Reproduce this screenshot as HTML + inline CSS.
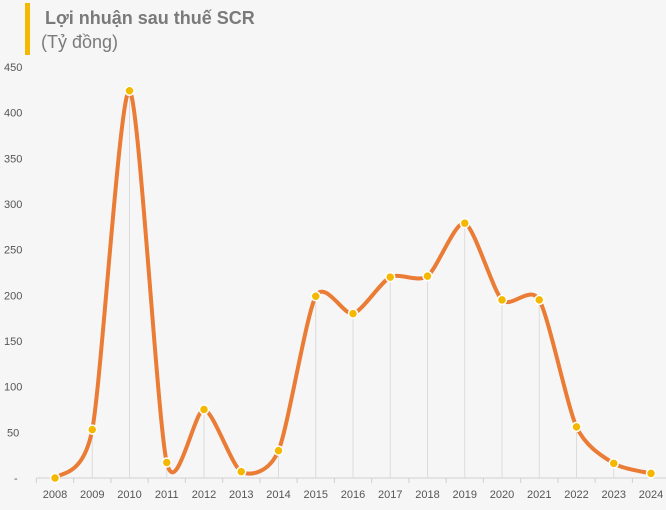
<!DOCTYPE html>
<html><head><meta charset="utf-8"><style>
body{margin:0;background:#f6f6f6;}
svg{display:block;font-family:"Liberation Sans","DejaVu Sans",sans-serif;}
</style></head><body>
<svg id="c" width="666" height="510">
<rect width="666" height="510" fill="#f6f6f6"/>
<rect x="25" y="3" width="5" height="52" fill="#f5b800"/>
<text x="45" y="24" font-size="18" font-weight="bold" fill="#7a7a7a">Lợi nhuận sau thuế SCR</text>
<text x="41" y="48" font-size="18" fill="#7a7a7a">(Tỷ đồng)</text>
<g id="ax"></g><g id="drops"></g><path id="line" fill="none" stroke="#ea7c35" stroke-width="4" stroke-linecap="round"/><g id="pts"></g>
</svg>
<script>
const years=["2008","2009","2010","2011","2012","2013","2014","2015","2016","2017","2018","2019","2020","2021","2022","2023","2024"];
const profit=[0,53,424,17,75,7,30,199,180,220,221,279,195,195,56,16,5];
const yTicks=[0,50,100,150,200,250,300,350,400,450];
const yTickLabels=["-","50","100","150","200","250","300","350","400","450"];
const NS="http://www.w3.org/2000/svg";
const x=i=>55+i*37.25, y=v=>478-v*411/450;
function mk(t,a,p){const e=document.createElementNS(NS,t);for(const k in a)e.setAttribute(k,a[k]);p.appendChild(e);return e;}
const ax=document.getElementById('ax');
yTicks.forEach((v,i)=>{const t=mk('text',{x:i==0?14:(v<100?7:4),y:y(v)+4,'font-size':11,fill:'#555'},ax);t.textContent=yTickLabels[i];

});
const base=mk('line',{x1:37,x2:666,y1:478,y2:478,stroke:'#d0d0d0'},ax);


years.forEach((yr,i)=>{mk('line',{x1:x(i)-18.6,x2:x(i)-18.6,y1:478,y2:483,stroke:'#d0d0d0'},ax);
const t=mk('text',{x:x(i),y:498,'font-size':11,fill:'#555','text-anchor':'middle'},ax);t.textContent=yr;


const d=mk('line',{x1:x(i),x2:x(i),y1:y(profit[i]),y2:478,stroke:'#dcdcdc'},document.getElementById('drops'));

});
const P=profit.map((v,i)=>[x(i),y(v)]);
const k=8;
let d='M'+P[0];
for(let i=0;i<P.length-1;i++){const p0=P[i-1]||P[i],p1=P[i],p2=P[i+1],p3=P[i+2]||P[i+1];
d+=` C${p1[0]+(p2[0]-p0[0])/k},${p1[1]+(p2[1]-p0[1])/k} ${p2[0]-(p3[0]-p1[0])/k},${p2[1]-(p3[1]-p1[1])/k} ${p2[0]},${p2[1]}`;}
document.getElementById('line').setAttribute('d',d);
P.forEach(p=>{const c=mk('circle',{cx:p[0],cy:p[1],r:4.5,fill:'#f5b800',stroke:'#fff','stroke-width':1.5},document.getElementById('pts'));

});
</script>
</body></html>
